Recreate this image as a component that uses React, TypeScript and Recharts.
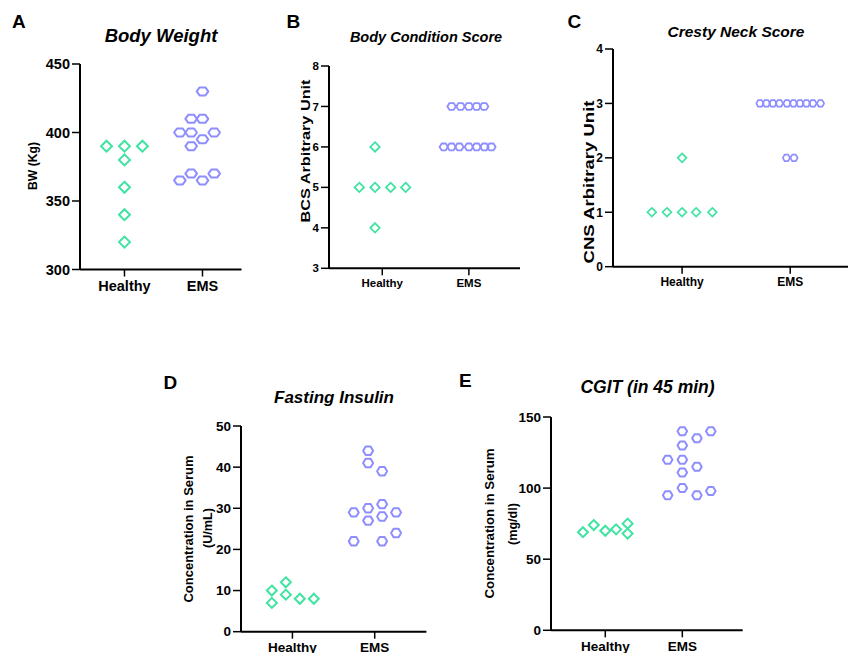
import React from 'react'
import { ScatterChart, Scatter, XAxis, YAxis } from 'recharts'

const groups = ['Healthy', 'EMS']

// A - body weight (kg)
const bwHealthy = [390, 390, 390, 380, 360, 340, 320]
const bwHealthyJitter = [-0.23, 0, 0.23, 0, 0, 0, 0]
const bwEms = [430, 410, 410, 400, 400, 400, 395, 390, 370, 370, 365, 365]
const bwEmsJitter = [0, -0.145, 0, -0.29, -0.145, 0.15, 0, -0.145, -0.145, 0.15, -0.29, 0]
const bwTicks = [300, 350, 400, 450]

// B - body condition score
const bcsHealthy = [6, 5, 5, 5, 5, 4]
const bcsHealthyJitter = [-0.084, -0.265, -0.084, 0.097, 0.27, -0.084]
const bcsEms = [7, 7, 7, 7, 7, 6, 6, 6, 6, 6, 6, 6]
const bcsEmsJitter = [-0.2, -0.096, 0, 0.089, 0.176, -0.29, -0.2, -0.11, 0, 0.09, 0.18, 0.26]
const bcsTicks = [3, 4, 5, 6, 7, 8]

// C - cresty neck score
const cnsHealthy = [2, 1, 1, 1, 1, 1]
const cnsHealthyJitter = [0, -0.28, -0.14, 0, 0.13, 0.28]
const cnsEms = [3, 3, 3, 3, 3, 3, 3, 3, 3, 3, 2, 2]
const cnsEmsJitter = [-0.28, -0.22, -0.16, -0.1, -0.03, 0.03, 0.09, 0.15, 0.21, 0.28, -0.035, 0.035]
const cnsTicks = [0, 1, 2, 3, 4]

// D - fasting insulin (U/mL)
const insHealthy = [10, 7, 12, 9, 8, 8]
const insHealthyJitter = [-0.25, -0.25, -0.08, -0.08, 0.09, 0.26]
const insEms = [44, 41, 30, 27, 39, 31, 28, 22, 29, 22, 29, 24]
const insEmsJitter = [-0.08, -0.08, -0.08, -0.08, 0.09, 0.09, 0.09, 0.09, -0.255, -0.255, 0.26, 0.26]
const insTicks = [0, 10, 20, 30, 40, 50]

// E - CGIT at 45 min (mg/dl)
const cgitHealthy = [69, 74, 70, 71, 75, 68]
const cgitHealthyJitter = [-0.29, -0.15, 0, 0.14, 0.29, 0.29]
const cgitEms = [140, 140, 135, 130, 120, 120, 115, 111, 100, 98, 95, 95]
const cgitEmsJitter = [0, 0.37, 0.19, 0, -0.19, 0, 0.19, 0, 0, 0.37, -0.19, 0.19]
const cgitTicks = [0, 50, 100, 150]

const GREEN = '#3fe3a2'
const PURPLE = '#8e8eff'
const FONT = '"Liberation Sans", Arial, Helvetica, sans-serif'

const toPoints = (vals: number[], jitter: number[], group: number) =>
  vals.map((v, i) => ({ x: group + jitter[i], y: v }))

const diamond = (r: number, sw: number) => (props: any) => {
  const { cx, cy } = props
  return (
    <path
      d={`M${cx},${cy - r}L${cx + r},${cy}L${cx},${cy + r}L${cx - r},${cy}Z`}
      fill="none"
      stroke={GREEN}
      strokeWidth={sw}
    />
  )
}

const hexagon = (w: number, h: number, sw: number) => (props: any) => {
  const { cx, cy } = props
  const q = w * 0.5
  return (
    <path
      d={`M${cx - w},${cy}L${cx - q},${cy - h}L${cx + q},${cy - h}L${cx + w},${cy}L${cx + q},${cy + h}L${cx - q},${cy + h}Z`}
      fill="none"
      stroke={PURPLE}
      strokeWidth={sw}
      strokeLinejoin="round"
    />
  )
}

interface PanelProps {
  x0: number
  x1: number
  yTop: number
  yBot: number
  xDomain: [number, number]
  yDomain: [number, number]
  yTicks: number[]
  tickFont: number
  healthy: { x: number; y: number }[]
  ems: { x: number; y: number }[]
  dia: number
  hexW: number
  hexH: number
  sw: number
}

function Panel(p: PanelProps) {
  const yAxisW = 40
  const left = p.x0 - yAxisW
  const top = p.yTop - 10
  const width = p.x1 - left + 10
  const height = p.yBot - top + 35
  const tick = { fontSize: p.tickFont, fontWeight: 'bold', fill: '#000', fontFamily: FONT }
  return (
    <div style={{ position: 'absolute', left, top, width, height }}>
      <ScatterChart width={width} height={height} margin={{ top: 10, right: 10, bottom: 5, left: 0 }}>
        <XAxis
          type="number"
          dataKey="x"
          domain={p.xDomain}
          allowDataOverflow
          ticks={[1, 2]}
          tickFormatter={(v: number) => groups[Math.round(v) - 1]}
          height={30}
          tick={tick}
          tickSize={7}
          tickMargin={4}
          axisLine={{ stroke: '#000', strokeWidth: 2 }}
          tickLine={{ stroke: '#000', strokeWidth: 1.5 }}
        />
        <YAxis
          type="number"
          dataKey="y"
          domain={p.yDomain}
          ticks={p.yTicks}
          allowDataOverflow
          width={yAxisW}
          tick={tick}
          tickSize={8}
          tickMargin={2}
          axisLine={{ stroke: '#000', strokeWidth: 2 }}
          tickLine={{ stroke: '#000', strokeWidth: 1.5 }}
        />
        <Scatter data={p.healthy} shape={diamond(p.dia, p.sw)} isAnimationActive={false} />
        <Scatter data={p.ems} shape={hexagon(p.hexW, p.hexH, p.sw)} isAnimationActive={false} />
      </ScatterChart>
    </div>
  )
}

const VLabel = ({ x, y, size, text, len }: { x: number; y: number; size: number; text: string; len?: number }) => (
  <text
    x={x}
    y={y}
    transform={`rotate(-90, ${x}, ${y})`}
    textAnchor="middle"
    dominantBaseline="central"
    fontSize={size}
    fontWeight="bold"
    fontFamily={FONT}
    fill="#000"
    textLength={len}
    lengthAdjust={len ? 'spacingAndGlyphs' : undefined}
  >
    {text}
  </text>
)

const Title = ({ x, y, size, text }: { x: number; y: number; size: number; text: string }) => (
  <text x={x} y={y} textAnchor="middle" fontSize={size} fontWeight="bold" fontStyle="italic" fontFamily={FONT} fill="#000">
    {text}
  </text>
)

const Letter = ({ x, y, text }: { x: number; y: number; text: string }) => (
  <text x={x} y={y} fontSize={19} fontWeight="bold" fontFamily={FONT} fill="#000">
    {text}
  </text>
)

export default function App() {
  return (
    <div
      style={{
        position: 'absolute',
        left: 0,
        top: 0,
        width: 848,
        height: 653,
        overflow: 'hidden',
        background: '#fff',
      }}
    >
      <Panel
        x0={79.5} x1={241} yTop={63.5} yBot={269}
        xDomain={[0.43, 2.5]} yDomain={[300, 450]} yTicks={bwTicks} tickFont={14.5}
        healthy={toPoints(bwHealthy, bwHealthyJitter, 1)}
        ems={toPoints(bwEms, bwEmsJitter, 2)}
        dia={5.5} hexW={5.8} hexH={4} sw={2}
      />
      <Panel
        x0={329} x1={520} yTop={65.7} yBot={268}
        xDomain={[0.385, 2.59]} yDomain={[3, 8]} yTicks={bcsTicks} tickFont={11.5}
        healthy={toPoints(bcsHealthy, bcsHealthyJitter, 1)}
        ems={toPoints(bcsEms, bcsEmsJitter, 2)}
        dia={4.7} hexW={4.2} hexH={3.4} sw={1.8}
      />
      <Panel
        x0={613.3} x1={850} yTop={49} yBot={266.7}
        xDomain={[0.361, 2.55]} yDomain={[0, 4]} yTicks={cnsTicks} tickFont={12}
        healthy={toPoints(cnsHealthy, cnsHealthyJitter, 1)}
        ems={toPoints(cnsEms, cnsEmsJitter, 2)}
        dia={4.4} hexW={3.6} hexH={3.3} sw={1.7}
      />
      <Panel
        x0={241.3} x1={426.7} yTop={426} yBot={631.7}
        xDomain={[0.375, 2.628]} yDomain={[0, 50]} yTicks={insTicks} tickFont={13.5}
        healthy={toPoints(insHealthy, insHealthyJitter, 1)}
        ems={toPoints(insEms, insEmsJitter, 2)}
        dia={5} hexW={5} hexH={4.2} sw={2}
      />
      <Panel
        x0={551} x1={742.7} yTop={416.7} yBot={630}
        xDomain={[0.295, 2.784]} yDomain={[0, 150]} yTicks={cgitTicks} tickFont={13.5}
        healthy={toPoints(cgitHealthy, cgitHealthyJitter, 1)}
        ems={toPoints(cgitEms, cgitEmsJitter, 2)}
        dia={5} hexW={4.8} hexH={4} sw={2}
      />
      <svg
        width={848}
        height={653}
        style={{ position: 'absolute', left: 0, top: 0, pointerEvents: 'none' }}
      >
        <Letter x={12} y={28} text="A" />
        <Letter x={286.5} y={28} text="B" />
        <Letter x={567.5} y={28} text="C" />
        <Letter x={163.5} y={389} text="D" />
        <Letter x={459} y={387} text="E" />

        <Title x={161} y={42} size={18.5} text="Body Weight" />
        <Title x={426} y={41.5} size={14.5} text="Body Condition Score" />
        <Title x={736} y={37} size={15.5} text="Cresty Neck Score" />
        <Title x={334} y={403} size={17} text="Fasting Insulin" />
        <Title x={647.5} y={393} size={17.5} text="CGIT (in 45 min)" />

        <VLabel x={33} y={166} size={12.5} text="BW (Kg)" len={48} />
        <VLabel x={305} y={151} size={13.5} text="BCS Arbitrary Unit" len={143} />
        <VLabel x={588} y={182} size={15} text="CNS Arbitrary Unit" len={163} />
        <VLabel x={188.5} y={529} size={12.8} text="Concentration in  Serum" len={147} />
        <VLabel x={207} y={528} size={13} text="(U/mL)" len={40} />
        <VLabel x={489.5} y={523.5} size={13.3} text="Concentration in Serum" len={150} />
        <VLabel x={512} y={524} size={13} text="(mg/dl)" len={42} />
      </svg>
    </div>
  )
}
